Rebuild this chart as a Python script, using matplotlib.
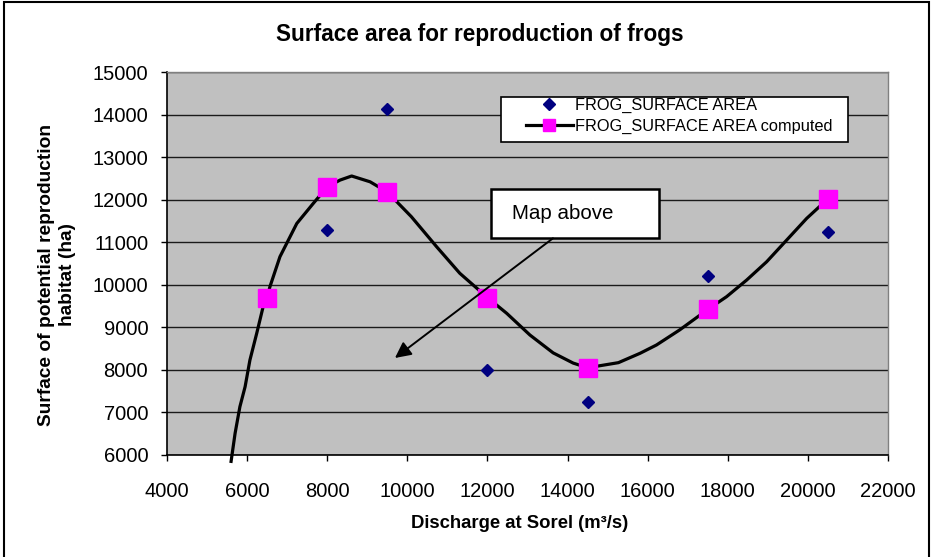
import matplotlib
matplotlib.use("Agg")
import matplotlib.pyplot as plt
from matplotlib.patches import Rectangle

plt.rcParams['font.family'] = ['Liberation Sans', 'DejaVu Sans']

# measured surface area (diamonds)
obs_q = [8000, 9500, 12000, 14500, 17500, 20500]
obs_area = [11280, 14120, 8000, 7250, 10200, 11250]

# computed values at the measured discharges (squares)
comp_q = [6500, 8000, 9500, 12000, 14500, 17500, 20500]
comp_area = [9700, 12300, 12180, 9700, 8050, 9420, 12020]

# computed curve
curve_q = [5600, 5700, 5820, 5950, 6070, 6240, 6400, 6500, 6570, 6820, 7240,
           7650, 8000, 8320, 8610, 9070, 9500, 10100, 10730, 11310, 12000,
           12480, 13060, 13640, 14140, 14500, 15270, 15810, 16220, 16800,
           17500, 17970, 18470, 18970, 19470, 19970, 20500]
curve_area = [5850, 6510, 7135, 7605, 8230, 8860, 9485, 9700, 9955, 10660, 11440,
              11910, 12300, 12460, 12556, 12420, 12180, 11600, 10895, 10270, 9700,
              9330, 8820, 8400, 8160, 8050, 8170, 8390, 8585, 8940,
              9420, 9720, 10110, 10540, 11050, 11560, 12020]

x_ticks = list(range(4000, 22001, 2000))
y_ticks = list(range(6000, 15001, 1000))

W, H = 937, 557
fig = plt.figure(figsize=(W / 100, H / 100), dpi=100)
ax = fig.add_axes([167/W, 1 - 455/H, (888 - 167)/W, (455 - 72)/H])
ax.set_facecolor('#c0c0c0')

ax.plot(obs_q, obs_area, 'D', color='#000080', markersize=6.5,
        linestyle='none', label='FROG_SURFACE AREA', zorder=4)
ax.plot(curve_q, curve_area, '-', color='black', lw=2.3, zorder=3,
        clip_on=False)
ax.plot(comp_q, comp_area, 's', color='#ff00ff', markersize=12.5,
        linestyle='none', zorder=5)
# legend entry: line with square marker
ax.plot([], [], '-s', color='black', lw=2.3, markerfacecolor='#ff00ff',
        markeredgecolor='#ff00ff', markersize=8.5,
        label='FROG_SURFACE AREA computed')

ax.set_xlim(4000, 22000)
ax.set_ylim(6000, 15000)
ax.set_xticks(x_ticks)
ax.set_yticks(y_ticks)
ax.tick_params(axis='both', labelsize=14.5, direction='out', length=4.5,
               width=1, color='black')
ax.tick_params(axis='y', pad=9)
ax.tick_params(axis='x', pad=15)
ax.grid(axis='y', color='#1a1a1a', lw=1)
ax.set_axisbelow(True)

for s in ['top', 'right']:
    ax.spines[s].set_color('#808080')
    ax.spines[s].set_linewidth(1)
for s in ['left', 'bottom']:
    ax.spines[s].set_color('black')
    ax.spines[s].set_linewidth(1.2)

# legend box drawn separately so the keys can sit further in
ax.add_patch(Rectangle((501/W, 1 - 142/H), (848 - 501)/W, (142 - 97)/H,
                       transform=fig.transFigure, facecolor='white',
                       edgecolor='black', lw=1.2, zorder=8))
leg = ax.legend(loc='upper left', bbox_to_anchor=(526/W, 1 - 98/H),
                bbox_transform=fig.transFigure, frameon=False, fontsize=11.8,
                handlelength=2.85, borderpad=0, labelspacing=0.32,
                handletextpad=0.12, borderaxespad=0)
leg.set_zorder(9)

# "Map above" callout
box_x0, box_x1 = 12088, 16288
box_y0, box_y1 = 11092, 12244
ax.add_patch(Rectangle((box_x0, box_y0), box_x1 - box_x0, box_y1 - box_y0,
                       facecolor='white', edgecolor='black', lw=1.8, zorder=6))
ax.text(12620, (box_y0 + box_y1) / 2, 'Map above', fontsize=14.8,
        va='center', ha='left', zorder=7)
ax.annotate('', xy=(9691, 8280), xytext=(13635, 11092),
            arrowprops=dict(arrowstyle='-|>', color='black', lw=1.4,
                            mutation_scale=24, shrinkA=0, shrinkB=0), zorder=6)

fig.text(480/W, 1 - 35/H, 'Surface area for reproduction of frogs',
         ha='center', va='center', fontsize=16.3, fontweight='bold')
fig.text(520/W, 1 - 524/H, 'Discharge at Sorel (m³/s)',
         ha='center', va='center', fontsize=13.3, fontweight='bold')
fig.text(57/W, 1 - 275/H, 'Surface of potential reproduction\nhabitat (ha)',
         ha='center', va='center', rotation=90, fontsize=13.8,
         fontweight='bold', linespacing=1.25)

# outer chart border
fig.patches.append(Rectangle((4/W, -0.01), (929 - 4)/W, 1 - 2/H + 0.01,
                             transform=fig.transFigure, fill=False,
                             edgecolor='black', lw=1.5))

fig.savefig('out.png', dpi=100)
